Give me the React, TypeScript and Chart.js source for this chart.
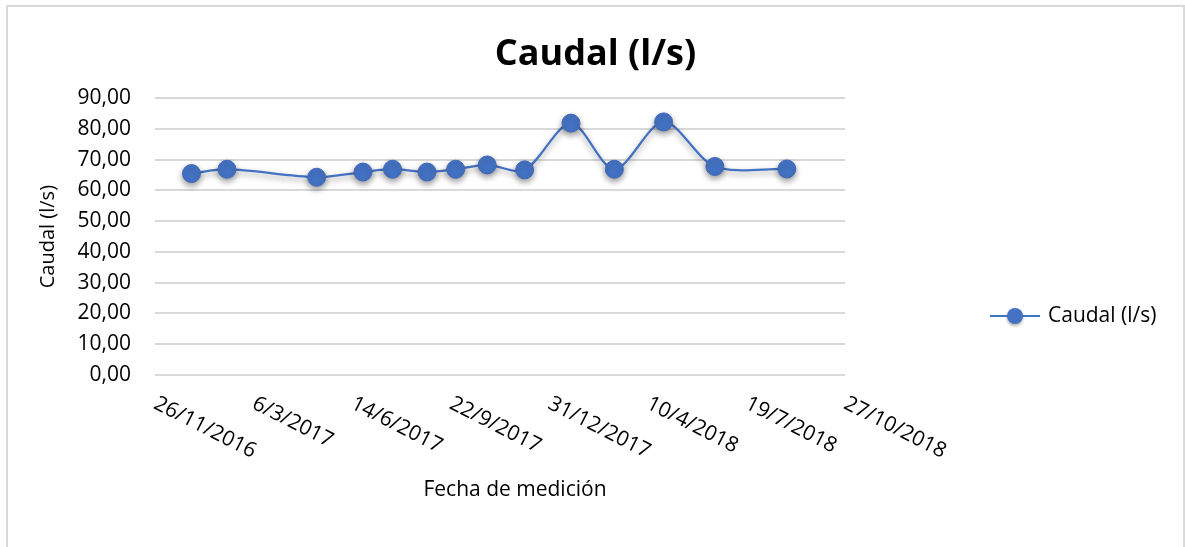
import React, { useEffect, useRef } from 'react';
import { Chart, registerables } from 'chart.js';

Chart.register(...registerables);

// ---- Data ----
const measurementDates = [
  '2017-01-02', '2017-02-07', '2017-05-09', '2017-06-25', '2017-07-25',
  '2017-08-29', '2017-09-27', '2017-10-29', '2017-12-06', '2018-01-22',
  '2018-03-07', '2018-04-26', '2018-06-17', '2018-08-29',
];
const flowValues = [65.5, 66.9, 64.3, 66.0, 66.9, 66.0, 66.9, 68.3, 66.7, 81.9, 66.9, 82.3, 67.8, 67.0];

const xTickDates = [
  '2016-11-26', '2017-03-06', '2017-06-14', '2017-09-22',
  '2017-12-31', '2018-04-10', '2018-07-19', '2018-10-27',
];
const xTickLabels = [
  '26/11/2016', '6/3/2017', '14/6/2017', '22/9/2017',
  '31/12/2017', '10/4/2018', '19/7/2018', '27/10/2018',
];
const yMin = 0;
const yMax = 90;
const yStep = 10;

const chartTitle = 'Caudal (l/s)';
const seriesLabel = 'Caudal (l/s)';
const xAxisTitle = 'Fecha de medición';
const yAxisTitle = 'Caudal (l/s)';

const SERIES_COLOR = '#4472C4';
const FONT = "'Open Sans'";

const toDay = (s: string) => {
  const [y, m, d] = s.split('-').map(Number);
  return Date.UTC(y, m - 1, d) / 86400000;
};

const shadowPlugin = {
  id: 'seriesShadow',
  beforeDatasetDraw(chart: any) {
    const ctx = chart.ctx;
    ctx.save();
    ctx.shadowColor = 'rgba(0,0,0,0.4)';
    ctx.shadowBlur = 6;
    ctx.shadowOffsetY = 3;
  },
  afterDatasetDraw(chart: any) {
    chart.ctx.restore();
  },
};

const xAxisTextPlugin = {
  id: 'xAxisText',
  afterDraw(chart: any) {
    const { ctx, chartArea, scales } = chart;
    const xs = scales.x;
    ctx.save();
    ctx.fillStyle = '#000';
    ctx.font = `21px ${FONT}`;
    ctx.textAlign = 'left';
    ctx.textBaseline = 'top';
    xTickDates.forEach((d, i) => {
      const px = xs.getPixelForValue(toDay(d));
      ctx.save();
      ctx.translate(px + 5, chartArea.bottom + 18);
      ctx.rotate((27 * Math.PI) / 180);
      ctx.fillText(xTickLabels[i], 0, 0);
      ctx.restore();
    });
    ctx.textAlign = 'center';
    ctx.textBaseline = 'middle';
    ctx.fillText(xAxisTitle, (chartArea.left + chartArea.right) / 2 + 15, chartArea.bottom + 115);
    ctx.restore();
  },
};

const sideLegendPlugin = {
  id: 'sideLegend',
  afterDraw(chart: any) {
    const { ctx, chartArea } = chart;
    const x0 = chartArea.right + 145;
    const y = chartArea.bottom - 59;
    ctx.save();
    ctx.strokeStyle = SERIES_COLOR;
    ctx.lineWidth = 2;
    ctx.beginPath();
    ctx.moveTo(x0, y);
    ctx.lineTo(x0 + 50, y);
    ctx.stroke();
    ctx.shadowColor = 'rgba(0,0,0,0.3)';
    ctx.shadowBlur = 3;
    ctx.shadowOffsetY = 2;
    ctx.fillStyle = SERIES_COLOR;
    ctx.beginPath();
    ctx.arc(x0 + 25, y, 8, 0, Math.PI * 2);
    ctx.fill();
    ctx.shadowColor = 'transparent';
    ctx.fillStyle = '#000';
    ctx.font = `21px ${FONT}`;
    ctx.textAlign = 'left';
    ctx.textBaseline = 'middle';
    ctx.fillText(seriesLabel, x0 + 58, y);
    ctx.restore();
  },
};

export default function App() {
  const canvasRef = useRef<HTMLCanvasElement | null>(null);

  useEffect(() => {
    if (!canvasRef.current) return;
    Chart.defaults.font.family = FONT;
    const points = measurementDates.map((d, i) => ({ x: toDay(d), y: flowValues[i] }));
    const chart = new Chart(canvasRef.current, {
      type: 'line',
      data: {
        datasets: [
          {
            label: seriesLabel,
            data: points,
            borderColor: SERIES_COLOR,
            backgroundColor: SERIES_COLOR,
            borderWidth: 2.25,
            pointRadius: 9,
            pointBorderWidth: 1,
            pointBorderColor: '#3f69b8',
            pointBackgroundColor: SERIES_COLOR,
            tension: 0.3,
            fill: false,
            yAxisID: 'y',
          },
        ],
      },
      options: {
        animation: false,
        responsive: true,
        maintainAspectRatio: false,
        layout: { padding: 0 },
        plugins: {
          legend: { display: false },
          tooltip: { enabled: false },
          title: {
            display: true,
            text: chartTitle,
            color: '#000',
            font: { family: FONT, size: 36, weight: 'bold' },
            padding: { top: 26, bottom: 22 },
          },
        },
        scales: {
          x: {
            type: 'linear',
            min: toDay(xTickDates[0]),
            max: toDay(xTickDates[xTickDates.length - 1]),
            ticks: { display: false, stepSize: 100 },
            grid: { display: false },
            border: { display: false },
            afterFit(scale: any) {
              scale.height = 172;
            },
          },
          y: {
            position: 'left',
            min: yMin,
            max: yMax,
            ticks: {
              stepSize: yStep,
              padding: 24,
              color: '#000',
              font: { family: FONT, size: 21 },
              callback: (v: any) => Number(v).toFixed(2).replace('.', ','),
            },
            grid: { color: '#d9d9d9', lineWidth: 2, drawTicks: false },
            border: { display: false },
            title: {
              display: true,
              text: yAxisTitle,
              color: '#000',
              font: { family: FONT, size: 20 },
              padding: { top: 28, bottom: 0 },
            },
            afterFit(scale: any) {
              scale.width = 147;
            },
          },
          legendSpace: {
            type: 'linear',
            position: 'right',
            display: true,
            ticks: { display: false },
            grid: { display: false, drawTicks: false },
            border: { display: false },
            afterFit(scale: any) {
              scale.width = 338;
            },
          },
        },
      },
      plugins: [shadowPlugin, xAxisTextPlugin, sideLegendPlugin],
    } as any);
    return () => chart.destroy();
  }, []);

  return (
    <div
      style={{
        position: 'absolute',
        left: 6,
        top: 5,
        width: 1175,
        height: 540,
        borderTop: '2px solid #d9d9d9',
        borderLeft: '2px solid #d9d9d9',
        borderRight: '2px solid #d9d9d9',
        background: '#fff',
      }}
    >
      <canvas ref={canvasRef} />
    </div>
  );
}
